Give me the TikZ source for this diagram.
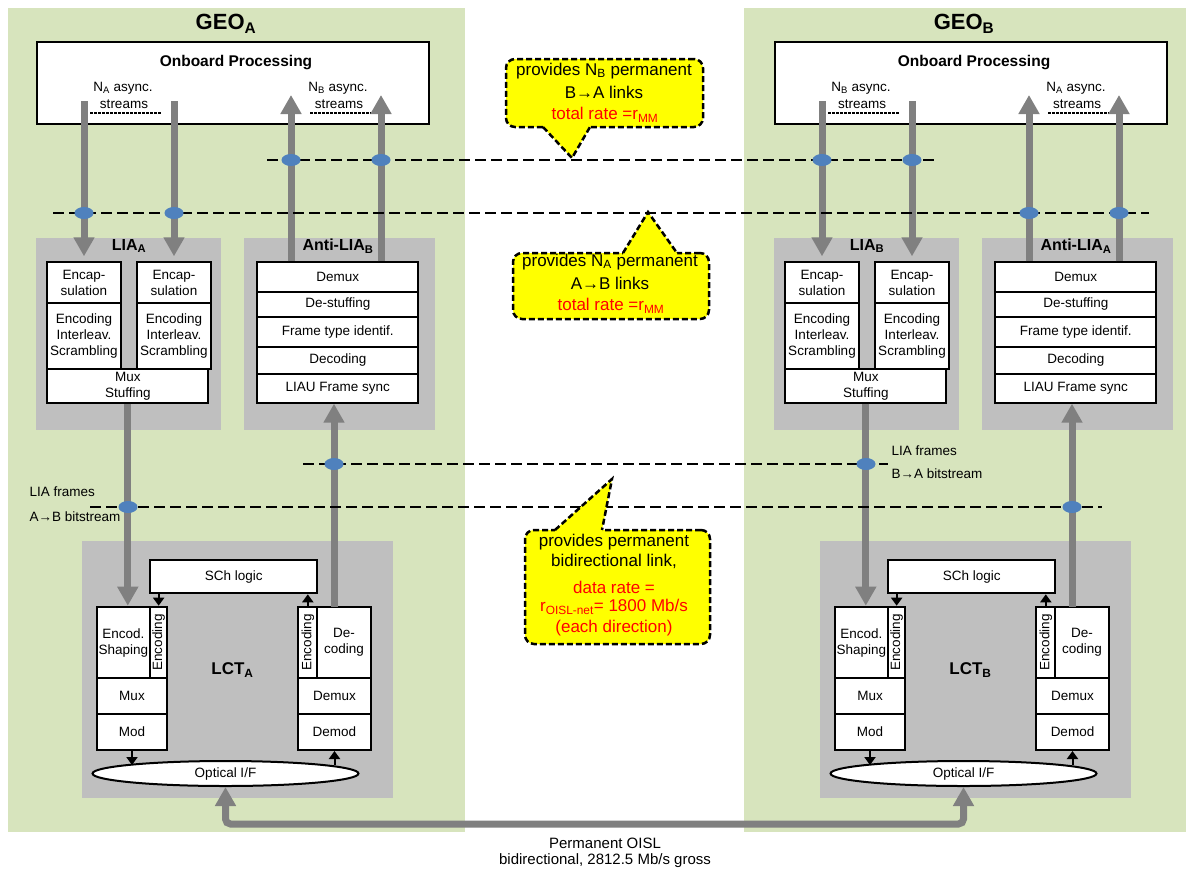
\documentclass[tikz,border=0pt]{standalone}
\usepackage{fontspec}
\setmainfont{Liberation Sans}
\usetikzlibrary{arrows.meta,shapes.geometric}
\definecolor{geo}{HTML}{D7E4BD}
\definecolor{grayb}{HTML}{BFBFBF}
\definecolor{arrgray}{HTML}{808080}
\definecolor{dotblue}{HTML}{4F81BD}
\definecolor{callyellow}{HTML}{FFFF00}
\newcommand{\sbs}[1]{\textsubscript{#1}}
\newcommand{\fn}{\fontsize{13.5}{16}\selectfont}
\newcommand{\fb}{\fontsize{16}{18}\selectfont\bfseries}
\newcommand{\fc}{\fontsize{17}{20}\selectfont}
\newcommand{\bx}[6]{\node[box, minimum width={#4-#2}, minimum height={#5-#3}] (#1) at ({(#2+#4)/2},{(#3+#5)/2}) {#6};}
\tikzset{
  box/.style={draw=black, line width=2pt, fill=white, inner sep=0pt, align=center, font=\fn},
  obox/.style={draw=black, line width=2.5pt, fill=white, inner sep=0pt},
  bigarr/.style={draw=arrgray, line width=7pt, -{Triangle[length=19pt,width=20pt]}},
  sarr/.style={draw=black, line width=2pt, -{Triangle[length=8pt,width=11pt]}},
  fdash/.style={line width=1.8pt, dash pattern=on 3pt off 1pt},
  dline/.style={line width=2pt, dash pattern=on 11pt off 5pt},
  blob/.style={ellipse, fill=dotblue, minimum width=19pt, minimum height=12pt, inner sep=0pt},
  callbox/.style={draw=black, dash pattern=on 6pt off 3pt, line width=2.5pt, fill=callyellow, rounded corners=9pt, inner sep=0pt},
  calldash/.style={draw=black, dash pattern=on 6pt off 3pt, line width=2.5pt},
  ctext/.style={font=\fc},
}
\newcommand{\satellite}[3]{%
\begin{scope}[xshift=#3]
\node[font=\fontsize{22}{24}\selectfont\bfseries] (#1title) at (226,24) {GEO\sbs{#1}};
\node[obox, minimum width=392pt, minimum height=82pt] (#1ob) at (233,83) {};
\node[font=\fontsize{15.5}{18}\selectfont\bfseries] (#1obt) at (236,63) {Onboard Processing};
\node (#1nl) at (123,88) {N\sbs{#1} async.};
\node (#1nls) at (124,104) {streams};
\node (#1nr) at (338,88) {N\sbs{#2} async.};
\node (#1nrs) at (339,104) {streams};
\draw[fdash] (90,113) -- (161,113);
\draw[fdash] (310,113) -- (371,113);
\fill[grayb] (36,238) rectangle (221,430);
\fill[grayb] (244,238) rectangle (435,430);
\fill[grayb] (82,541) rectangle (393,798);
\node[font=\fb] (#1lia) at (129,246) {LIA\sbs{#1}};
\node[font=\fb] (#1alia) at (338,246) {Anti-LIA\sbs{#2}};
\bx{#1enc1}{47.3}{262.3}{120.7}{302.7}{Encap-\\sulation}
\bx{#1eis1}{47.3}{302.7}{120.7}{369.3}{Encoding\\Interleav.\\Scrambling}
\bx{#1enc2}{137.3}{262.3}{210.7}{302.7}{Encap-\\sulation}
\bx{#1eis2}{137.3}{302.7}{210.7}{369.3}{Encoding\\Interleav.\\Scrambling}
\bx{#1mux}{47.3}{369.3}{208.3}{402.7}{Mux\\Stuffing}
\bx{#1dmx}{257.3}{262.3}{418.3}{291.5}{Demux}
\bx{#1dst}{257.3}{291.5}{418.3}{316.5}{De-stuffing}
\bx{#1fti}{257.3}{316.5}{418.3}{346.7}{Frame type identif.}
\bx{#1dec}{257.3}{346.7}{418.3}{374.3}{Decoding}
\bx{#1lsy}{257.3}{374.3}{418.3}{402.7}{LIAU Frame sync}
\bx{#1sch}{150}{560}{317.3}{593.3}{SCh logic}
\bx{#1es}{96.7}{606.7}{150}{678.3}{Encod.\\Shaping}
\bx{#1ev1}{150}{606.7}{167.3}{678.3}{}
\bx{#1mx}{96.7}{678.3}{167.3}{714}{Mux}
\bx{#1mod}{96.7}{714}{167.3}{750}{Mod}
\bx{#1ev2}{298.3}{606.7}{317.3}{678.3}{}
\bx{#1dc}{317.3}{606.7}{370.7}{678.3}{De-\\coding}
\bx{#1dmx2}{298.3}{678.3}{370.7}{714}{Demux}
\bx{#1dmod}{298.3}{714}{370.7}{750}{Demod}
\node[rotate=90] (#1evt1) at (#1ev1.center) {Encoding};
\node[rotate=90] (#1evt2) at (#1ev2.center) {Encoding};
\node[font=\fontsize{17}{20}\selectfont\bfseries] (#1lct) at (232.5,670) {LCT\sbs{#1}};
\node[ellipse, draw=black, line width=2pt, fill=white, minimum width=266pt, minimum height=25pt, inner sep=0pt] (#1opt) at (225.5,773.5) {Optical I/F};
\draw[sarr] (#1ev1.north |- #1sch.south) -- (#1ev1.north);
\draw[sarr] (#1ev2.north) -- (#1ev2.north |- #1sch.south);
\draw[sarr] (#1mod.south) -- ++(0,14);
\draw[sarr, {Triangle[length=8pt,width=11pt]}-] (#1dmod.south) -- ++(0,14);
\coordinate (#1s1) at (84,101);
\coordinate (#1s2) at (174,101);
\coordinate (#1t1) at (291,95);
\coordinate (#1t2) at (381,95);
\coordinate (#1up) at (334,606.7);
\draw[bigarr, shorten >=5pt] (#1s1) -- (#1s1 |- #1enc1.north);
\draw[bigarr, shorten >=5pt] (#1s2) -- (#1s2 |- #1enc2.north);
\draw[bigarr] (#1t1 |- #1dmx.north) -- (#1t1);
\draw[bigarr] (#1t2 |- #1dmx.north) -- (#1t2);
\draw[bigarr] (#1mux.south) -- (#1mux.south |- #1es.north);
\draw[bigarr] (#1up) -- (#1up |- #1lsy.south);
\end{scope}}
\begin{document}
\begin{tikzpicture}[x=1pt,y=-1pt, every node/.style={font=\fn}]
\useasboundingbox (0,0) rectangle (1194,871);
\fill[white] (0,0) rectangle (1194,871);
\fill[geo] (8,8) rectangle (465,832);
\fill[geo] (744,8) rectangle (1186,832);
\satellite{A}{B}{0}
\satellite{B}{A}{738}
% bottom OISL link
\draw[draw=arrgray, line width=7pt, rounded corners=5pt, {Triangle[length=19pt,width=20pt]}-{Triangle[length=19pt,width=20pt]}]
  (Aopt.south) -- (Aopt.south |- 0,824) -- (Bopt.south |- 0,824) -- (Bopt.south);
\node[font=\fontsize{15}{18}\selectfont] (oisl1) at (605,843) {Permanent OISL};
\node[font=\fontsize{15}{18}\selectfont] (oisl2) at (605,861) {bidirectional, 2812.5 Mb/s gross};
% dashed interface lines
\draw[dline] (267,160) -- (939,160);
\draw[dline] (53,213) -- (1149,213);
\draw[dline] (303,464) -- (888,464);
\draw[dline] (90,507) -- (1102,507);
\foreach \x/\n in {291/a,381/b,822/c,912/d} \node[blob] (ea\n) at (\x,160) {};
\foreach \x/\n in {84/a,174/b,1029/c,1119/d} \node[blob] (eb\n) at (\x,213) {};
\foreach \x/\n in {334/a,866/b} \node[blob] (ec\n) at (\x,464) {};
\foreach \x/\n in {128/a,1072/b} \node[blob] (ed\n) at (\x,507) {};
% bitstream labels
\node[anchor=west] (lfa) at (26,492) {LIA frames};
\node[anchor=west] (lfb) at (26,517) {A→B bitstream};
\node[anchor=west] (lfc) at (888,451) {LIA frames};
\node[anchor=west] (lfd) at (888,474) {B→A bitstream};
% callout 1
\node[callbox, minimum width=197pt, minimum height=68pt] (c1) at (604.5,93) {};
\fill[callyellow] (543,124) -- (543,127) -- (572,158) -- (590,127) -- (590,124) -- cycle;
\draw[calldash] (543,127) -- (572,158) -- (590,127);
\node[ctext] (c1a) at (604,71) {provides N\sbs{B} permanent};
\node[ctext] (c1b) at (604,92) {B→A links};
\node[ctext, text=red] (c1c) at (605,115) {total rate =r\sbs{MM}};
% callout 2
\node[callbox, minimum width=196pt, minimum height=66pt] (c2) at (611,286) {};
\fill[callyellow] (623,256) -- (623,253) -- (648,212) -- (677,253) -- (677,256) -- cycle;
\draw[calldash] (623,253) -- (648,212) -- (677,253);
\node[ctext] (c2a) at (610,262) {provides N\sbs{A} permanent};
\node[ctext] (c2b) at (610,283) {A→B links};
\node[ctext, text=red] (c2c) at (611,306) {total rate =r\sbs{MM}};
% callout 3
\node[callbox, minimum width=185pt, minimum height=114pt] (c3) at (617.5,587) {};
\fill[callyellow] (555,533) -- (555,530) -- (612,479) -- (602,530) -- (602,533) -- cycle;
\draw[calldash] (555,530) -- (612,479) -- (602,530);
\node[ctext] (c3a) at (614,542) {provides permanent};
\node[ctext] (c3b) at (614,561) {bidirectional link,};
\node[ctext, text=red] (c3c) at (614,587) {data rate =};
\node[ctext, text=red] (c3d) at (614,607) {r\sbs{OISL-net}= 1800 Mb/s};
\node[ctext, text=red] (c3e) at (614,628) {(each direction)};
\end{tikzpicture}
\end{document}
